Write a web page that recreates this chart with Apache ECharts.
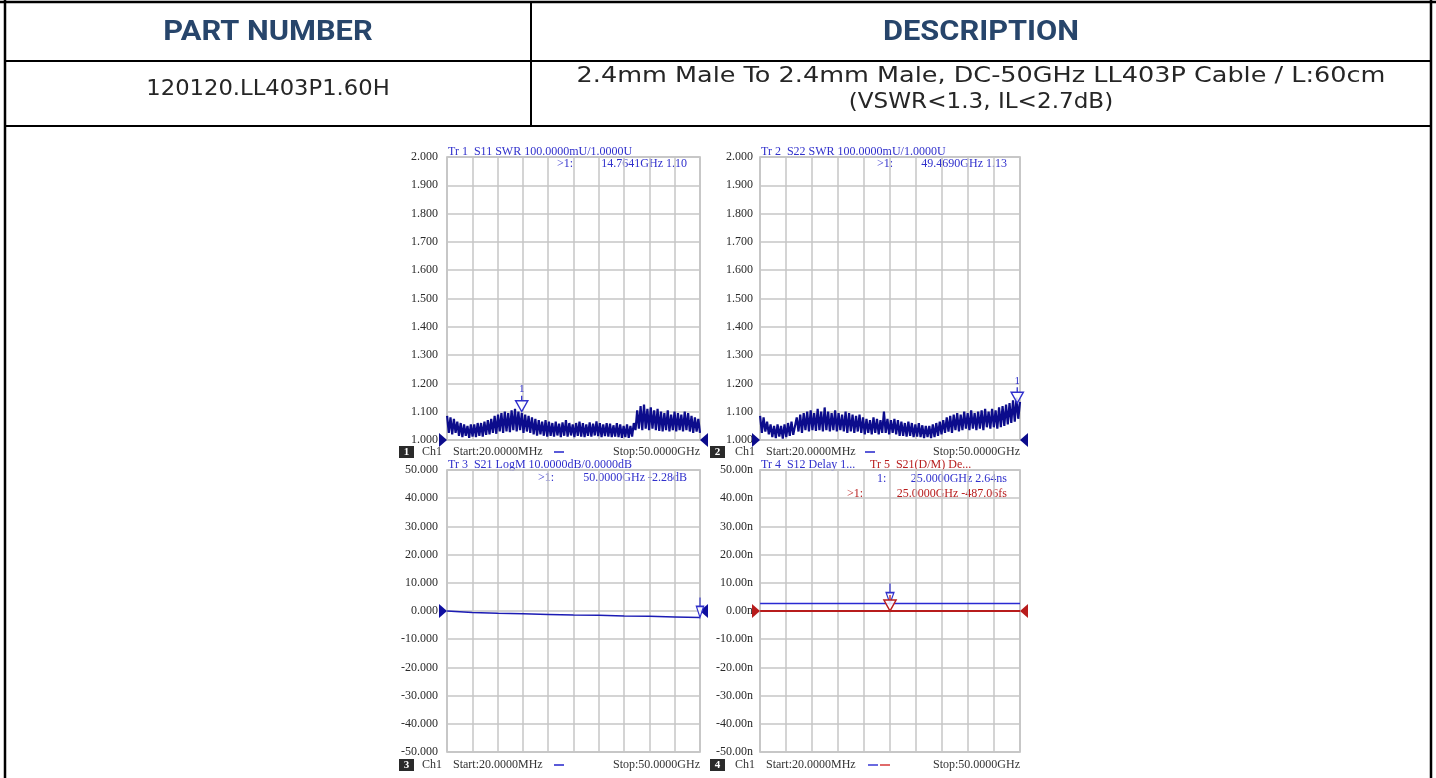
<!DOCTYPE html>
<html><head><meta charset="utf-8">
<script src="https://cdn.jsdelivr.net/npm/echarts@6/dist/echarts.min.js"></script>
<style>html,body{margin:0;padding:0;background:#fff;}#c{width:1436px;height:778px;}</style>
</head><body><div id="c"></div>
<script>
// ---------- table content ----------
const tableHeaders = ['PART NUMBER', 'DESCRIPTION'];
const partNumber = '120120.LL403P1.60H';
const descriptionLines = ['2.4mm Male To 2.4mm Male, DC-50GHz LL403P Cable / L:60cm', '(VSWR<1.3, IL<2.7dB)'];

// ---------- sweep ----------
const sweepStartGHz = 0.02;
const sweepStopGHz = 50;

// ---------- Tr1 S11 SWR (zig-zag of noisy band) ----------
const s11Swr = [
  1.085,1.025,1.08,1.02,1.075,1.025,
  1.065,1.015,1.06,1.01,1.055,1.015,1.05,1.008,1.055,1.012,1.055,1.01,1.06,1.015,1.06,1.012,1.065,1.018,1.07,1.02,1.075,
  1.025,1.085,1.022,1.09,1.03,1.095,1.025,1.1,1.03,1.095,1.028,1.105,1.035,1.11,1.03,1.1,1.035,1.095,1.025,1.09,1.03,1.085,1.025,1.08,
  1.02,1.075,1.015,1.07,1.02,1.065,1.015,1.07,1.012,1.065,
  1.015,1.06,1.012,1.065,1.016,1.058,1.01,1.062,1.015,1.07,1.012,1.06,1.016,1.055,1.01,1.06,1.015,1.065,1.012,1.06,
  1.01,1.055,1.015,1.062,1.012,1.058,1.016,1.066,1.014,1.06,1.01,1.055,1.014,1.06,1.012,1.058,1.01,1.052,1.012,1.06,
  1.01,1.055,1.008,1.05,1.01,1.055,1.008,1.05,1.012,1.06,
  1.035,1.105,1.04,1.12,1.035,1.125,1.04,1.11,1.035,1.115,1.04,1.105,1.035,1.11,1.032,
  1.1,1.03,1.095,1.035,1.105,1.03,1.09,1.035,1.1,1.03,1.095,1.035,1.09,1.03,1.1,1.035,1.095,1.03,1.085,1.025,1.08,1.03,1.075,1.025
];

// ---------- Tr2 S22 SWR ----------
const s22Swr = [
  1.085,1.025,1.08,1.03,1.065,1.02,
  1.055,1.01,1.05,1.007,1.055,1.012,1.05,1.005,1.055,1.01,1.06,1.015,1.065,1.018,
  1.025,1.08,1.03,1.09,1.025,1.095,1.035,1.1,1.03,1.105,1.035,1.095,1.032,1.11,1.035,1.1,1.03,1.115,1.035,1.1,
  1.03,1.095,1.035,1.105,1.03,1.095,1.035,1.09,1.03,1.1,1.025,1.095,1.03,1.09,1.025,1.085,1.03,1.09,1.025,
  1.08,1.02,1.075,1.025,1.07,1.02,1.08,1.025,1.075,1.02,1.07,1.025,1.1,1.025,1.075,1.02,1.07,1.025,1.075,1.02,1.07,1.015,
  1.065,1.015,1.06,1.012,1.065,1.015,1.06,1.01,1.055,1.012,1.06,1.01,1.052,1.007,1.05,1.01,1.05,1.007,1.055,1.01,1.06,1.015,1.065,
  1.02,1.07,1.025,1.08,1.03,1.085,1.025,1.09,1.035,1.095,1.03,1.09,1.035,1.1,1.04,1.095,1.035,1.105,1.04,1.095,1.035,1.1,
  1.04,1.105,1.035,1.11,1.045,1.1,1.04,1.11,1.045,1.105,1.04,1.115,1.045,1.12,1.05,1.125,1.055,1.13,1.06,1.14,1.065,1.15,1.075,1.135
];

// ---------- Tr3 S21 LogM (dB) ----------
const s21FreqGHz = [0.02, 5, 10, 15, 20, 25, 30, 35, 40, 45, 50];
const s21LogMagDb = [0, -0.55, -0.8, -1.0, -1.2, -1.4, -1.55, -1.75, -1.9, -2.1, -2.28];

// ---------- Tr4 S12 delay / Tr5 S21(D/M) delay (ns) ----------
const delayFreqGHz = [0.02, 5, 10, 15, 20, 25, 30, 35, 40, 45, 50];
const s12DelayNs = [2.64, 2.64, 2.64, 2.64, 2.64, 2.64, 2.64, 2.64, 2.64, 2.64, 2.64];
const s21DmDelayNs = [-0.00049, -0.00049, -0.00049, -0.00049, -0.00049, -0.00049, -0.00049, -0.00049, -0.00049, -0.00049, -0.00049];

// ---------- markers ----------
const s11Marker = [14.7641, 1.10];
const s22Marker = [49.4690, 1.13];
const s21Marker = [50.0, -2.28];
const s12Marker = [25.0, 2.64];
const s21DmMarker = [25.0, -0.00048706];

// ---------- axis scales ----------
const swrAxis = { min: 1, max: 2, step: 0.1, ref: 1 };
const logmAxis = { min: -50, max: 50, step: 10, ref: 0 };
const delayAxis = { min: -50, max: 50, step: 10, ref: 0 };

// ---------- annotation text ----------
const titles = [
  'Tr 1  S11 SWR 100.0000mU/1.0000U',
  'Tr 2  S22 SWR 100.0000mU/1.0000U',
  'Tr 3  S21 LogM 10.0000dB/0.0000dB',
  'Tr 4  S12 Delay 1...',
  'Tr 5  S21(D/M) De...'
];
const readouts = [
  ['>1:', '14.7641GHz 1.10'],
  ['>1:', '49.4690GHz 1.13'],
  ['>1:', '50.0000GHz -2.28dB'],
  ['1:', '25.0000GHz 2.64ns'],
  ['>1:', '25.0000GHz -487.06fs']
];
const startLabel = 'Start:20.0000MHz';
const stopLabel = 'Stop:50.0000GHz';
const chLabel = 'Ch1';

// ================= rendering =================
const chart = echarts.init(document.getElementById('c'), null, { renderer: 'canvas' });

const NAVY = '#0c0c8c';
const BLUE = '#3030cc';
const RED = '#b81c1c';
const GRIDC = '#c6c6c6';
const SERIF = '"Liberation Serif", "DejaVu Serif", serif';

function sweep(vals) {
  const n = vals.length;
  return vals.map((v, i) => [sweepStartGHz + i * (sweepStopGHz - sweepStartGHz) / (n - 1), v]);
}
function pairs(xs, ys) { return xs.map((x, i) => [x, ys[i]]); }

const grids = [
  { left: 447, top: 157, width: 253, height: 283 },
  { left: 760, top: 157, width: 260, height: 283 },
  { left: 447, top: 470, width: 253, height: 282 },
  { left: 760, top: 470, width: 260, height: 282 }
].map(g => Object.assign({ show: true, borderColor: '#b8b8b8', borderWidth: 1.5, backgroundColor: 'transparent' }, g));

const xAxes = grids.map((g, i) => ({
  type: 'value', gridIndex: i, min: 0, max: 50, interval: 5,
  axisLabel: { show: false }, axisTick: { show: false }, axisLine: { show: false },
  splitLine: { show: true, lineStyle: { color: GRIDC, width: 1.5 } }
}));
function yAx(i, ax, fmt, margin) {
  return {
    type: 'value', gridIndex: i, min: ax.min, max: ax.max, interval: ax.step,
    axisTick: { show: false }, axisLine: { show: false },
    splitLine: { show: true, lineStyle: { color: GRIDC, width: 1.5 } },
    axisLabel: { formatter: fmt, color: '#2a2a2a', fontFamily: SERIF, fontSize: 12, margin: margin }
  };
}
const yAxes = [
  yAx(0, swrAxis, v => v.toFixed(3), 9),
  yAx(1, swrAxis, v => v.toFixed(3), 7),
  yAx(2, logmAxis, v => v.toFixed(3), 9),
  yAx(3, delayAxis, v => v.toFixed(2) + 'n', 7)
];

const triRight = 'path://M0,0L8,7L0,14Z';
const triLeft = 'path://M8,0L0,7L8,14Z';
const markStem = 'path://M7,0L7,5M0,5L14,5L7,16Z';
const markLongStem = 'path://M6,0L6,9M0,9L12,9L6,20Z';

function refMarks(y, color) {
  return [
    { coord: [0, y], symbol: triRight, symbolSize: [8, 14], symbolOffset: [-4, 0], itemStyle: { color: color, borderWidth: 0 }, label: { show: false } },
    { coord: [50, y], symbol: triLeft, symbolSize: [8, 14], symbolOffset: [4, 0], itemStyle: { color: color, borderWidth: 0 }, label: { show: false } }
  ];
}
function mkMarker(coord, color, sym, size, withLabel) {
  return {
    coord: coord, symbol: sym, symbolSize: size, symbolKeepAspect: true,
    symbolOffset: [0, -size[1] / 2],
    itemStyle: { color: 'rgba(255,255,255,0.85)', borderColor: color, borderWidth: 1.4 },
    label: { show: withLabel, position: 'top', distance: 0, formatter: '1', color: color, fontFamily: SERIF, fontSize: 11 }
  };
}

const series = [
  {
    type: 'line', xAxisIndex: 0, yAxisIndex: 0, data: sweep(s11Swr), symbol: 'none',
    lineStyle: { color: NAVY, width: 2.2 }, z: 3,
    markPoint: { silent: true, data: refMarks(swrAxis.ref, NAVY).concat([mkMarker(s11Marker, BLUE, markStem, [14, 16], true)]) }
  },
  {
    type: 'line', xAxisIndex: 1, yAxisIndex: 1, data: sweep(s22Swr), symbol: 'none',
    lineStyle: { color: NAVY, width: 2.2 }, z: 3,
    markPoint: { silent: true, data: refMarks(swrAxis.ref, NAVY).concat([mkMarker(s22Marker, BLUE, markStem, [14, 16], true)]) }
  },
  {
    type: 'line', xAxisIndex: 2, yAxisIndex: 2, data: pairs(s21FreqGHz, s21LogMagDb), symbol: 'none',
    lineStyle: { color: '#1c1cb4', width: 1.5 }, z: 3,
    markPoint: { silent: true, data: refMarks(logmAxis.ref, '#1010a0').concat([mkMarker(s21Marker, BLUE, markLongStem, [12, 20], false)]) }
  },
  {
    type: 'line', xAxisIndex: 3, yAxisIndex: 3, data: pairs(delayFreqGHz, s12DelayNs), symbol: 'none',
    lineStyle: { color: '#2a2ad2', width: 1.5 }, z: 3,
    markPoint: { silent: true, data: [mkMarker(s12Marker, BLUE, markLongStem, [13, 20], false)] }
  },
  {
    type: 'line', xAxisIndex: 3, yAxisIndex: 3, data: pairs(delayFreqGHz, s21DmDelayNs), symbol: 'none',
    lineStyle: { color: RED, width: 1.8 }, z: 4,
    markPoint: { silent: true, data: refMarks(delayAxis.ref, RED).concat([mkMarker(s21DmMarker, RED, markStem, [14, 16], false)]) }
  }
];

// ---------- graphic: table + annotations ----------
const g = [];
function line(x1, y1, x2, y2, w, c) {
  g.push({ type: 'line', shape: { x1, y1, x2, y2 }, style: { stroke: c || '#000', lineWidth: w || 2 }, silent: true });
}
function text(t, x, y, font, fill, align, sx) {
  g.push({ type: 'text', x: x, y: y, scaleX: sx || 1, style: { text: t, font: font, fill: fill, align: align || 'left', verticalAlign: 'middle' }, silent: true });
}
// table borders
line(0, 2, 1436, 2, 2.5);
line(5, 0, 5, 778, 2.5);
line(1431, 0, 1431, 778, 2.5);
line(5, 61, 1431, 61, 2);
line(5, 126, 1431, 126, 2);
line(531, 2, 531, 126, 2);
// table texts
const HFONT = 'bold 28px Roboto';
text(tableHeaders[0], 268, 33, HFONT, '#27456b', 'center', 1.1);
text(tableHeaders[1], 981, 33, HFONT, '#27456b', 'center', 1.1);
const RFONT = '22px "DejaVu Sans"';
text(partNumber, 268, 89, RFONT, '#262626', 'center', 1.03);
text(descriptionLines[0], 981, 76, RFONT, '#262626', 'center', 1.16);
text(descriptionLines[1], 981, 102, RFONT, '#262626', 'center', 1.05);

// plot annotations
const AF = '12px ' + SERIF;
text(titles[0], 448, 152, AF, BLUE);
text(readouts[0][0], 557, 164, AF, BLUE);
text(readouts[0][1], 687, 164, AF, BLUE, 'right');
text(titles[1], 761, 152, AF, BLUE);
text(readouts[1][0], 877, 164, AF, BLUE);
text(readouts[1][1], 1007, 164, AF, BLUE, 'right');
text(titles[2], 448, 465, AF, BLUE);
text(readouts[2][0], 538, 478, AF, BLUE);
text(readouts[2][1], 687, 478, AF, BLUE, 'right');
text(titles[3], 761, 465, AF, BLUE);
text(titles[4], 870, 465, AF, RED);
text(readouts[3][0], 877, 479, AF, BLUE);
text(readouts[3][1], 1007, 479, AF, BLUE, 'right');
text(readouts[4][0], 847, 494, AF, RED);
text(readouts[4][1], 1007, 494, AF, RED, 'right');

// channel footers
function footer(n, xBox, xCh, xStart, xDash, xStopEnd, y, dashes) {
  g.push({ type: 'rect', shape: { x: xBox, y: y - 6, width: 15, height: 12 }, style: { fill: '#2a2a2a' }, silent: true });
  text(String(n), xBox + 7.5, y, 'bold 11px ' + SERIF, '#fff', 'center');
  text(chLabel, xCh, y, AF, '#333');
  text(startLabel, xStart, y, AF, '#333');
  dashes.forEach((c, k) => {
    g.push({ type: 'rect', shape: { x: xDash + k * 12, y: y - 1, width: 10, height: 2 }, style: { fill: c }, silent: true });
  });
  text(stopLabel, xStopEnd, y, AF, '#333', 'right');
}
footer(1, 399, 422, 453, 554, 700, 452, ['#5a5ad8']);
footer(2, 710, 735, 766, 865, 1020, 452, ['#5a5ad8']);
footer(3, 399, 422, 453, 554, 700, 765, ['#5a5ad8']);
footer(4, 710, 735, 766, 868, 1020, 765, ['#6a6ae0', '#e06a6a']);

chart.setOption({
  animation: false,
  backgroundColor: '#ffffff',
  grid: grids,
  xAxis: xAxes,
  yAxis: yAxes,
  series: series,
  graphic: { elements: g }
});
</script>
</body></html>
